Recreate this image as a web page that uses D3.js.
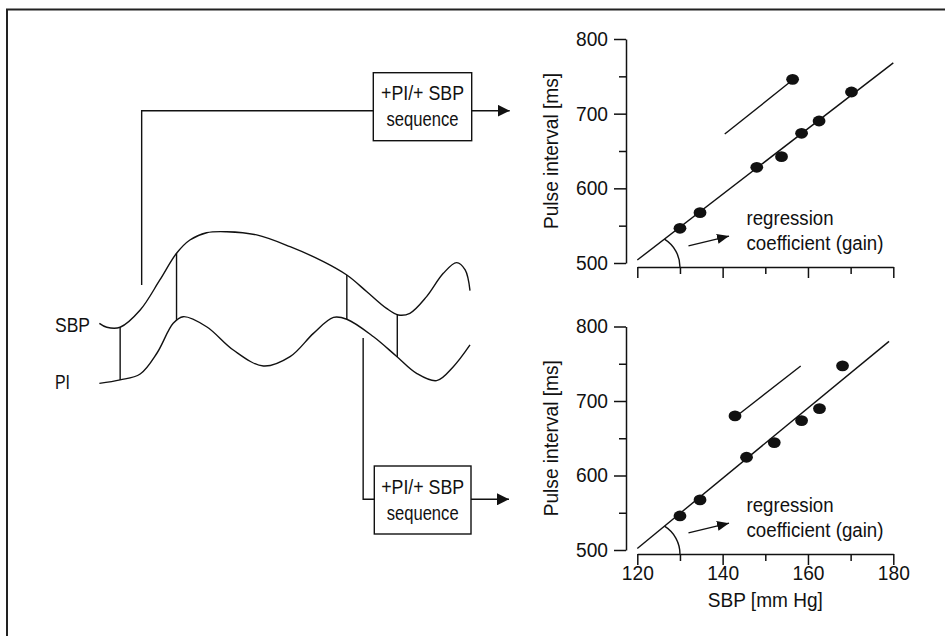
<!DOCTYPE html>
<html><head><meta charset="utf-8">
<script src="https://cdn.jsdelivr.net/npm/d3@7"></script>
<style>
body{margin:0;background:#fff;}
svg text{font-family:'Liberation Sans',Arial,sans-serif;font-size:20px;fill:#111;}
</style></head><body>
<svg id="c" width="945" height="636"></svg>
<script>
// ---------------- data ----------------
const xTicksMajor = [120, 140, 160, 180];
const xTicksMinor = [130, 150, 170];
const yTicksMajor = [500, 600, 700, 800];
const yTicksMinor = [550, 650, 750];

const topSBP = [130.0, 134.7, 148.0, 153.8, 158.5, 162.6, 170.2, 156.4];
const topPI  = [546.5, 567.4, 628.2, 642.4, 673.7, 690.2, 729.0, 746.0];
const botSBP = [130.0, 134.7, 145.6, 152.1, 158.5, 162.7, 168.1, 142.9];
const botPI  = [545.7, 567.2, 624.5, 644.2, 673.7, 689.8, 747.2, 680.0];

const topMainLine  = [[120, 504], [180, 768]];
const topShortLine = [[140.5, 672.7], [156.6, 746]];
const botMainLine  = [[120, 502], [179, 780]];
const botShortLine = [[144.1, 683.6], [158.3, 747]];

const gainArrow = [[132, 523], [141.5, 536]];
const gainArcCenterX = 122.3;
const gainArcEndX = 130;
const gainLabel = ["regression", "coefficient (gain)"];
const gainLabelPos = [[145.6, 551], [145.6, 518]];

const yTitle = "Pulse interval [ms]";
const xTitle = "SBP [mm Hg]";
const boxLines = ["+PI/+ SBP", "sequence"];
const waveLabels = ["SBP", "PI"];

// schematic waveforms: [time, level] (arbitrary units)
const sbpWave = [[0.1,45.1],[2.1,42.8],[5.7,42.8],[11.1,52.9],[16.4,70.6],[20.9,86.3],[24.5,94.1],[29.0,98.4],[34.4,99.0],[42.5,97.1],[51.5,90.2],[60.5,81.4],[66.8,73.5],[72.2,63.7],[77.5,53.9],[80.7,50.0],[83.8,51.0],[88.3,60.8],[92.8,74.5],[96.4,80.8],[98.7,76.5],[100,64.3]];
const piWave = [[0.1,9.8],[5.7,11.8],[11.1,15.3],[15.6,27.5],[20.0,45.1],[22.7,49.0],[29.0,43.1],[36.2,29.4],[44.3,20.0],[51.5,25.5],[57.8,39.2],[63.2,48.6],[66.8,47.5],[74.0,37.2],[80.1,25.9],[85.6,15.7],[91.0,11.4],[95.5,19.6],[100,32.4]];
const connectorTimes = [5.7, 20.9, 66.8, 80.4];
const seqLeadTop = [11.5, 67.6];   // time, level where upper lead starts
const seqLeadBot = [71.2, 36.5];   // time, level where lower lead starts

// rendered text widths (condensed face emulation)
const textWidths = {"+PI/+ SBP": 83, "sequence": 72, "regression": 87, "coefficient (gain)": 137,
  "Pulse interval [ms]": 156, "SBP [mm Hg]": 115, "SBP": 35, "PI": 15};
const tickLabelWidth = 32;

// ---------------- drawing ----------------
const svg = d3.select("#c");
const ink = "#111";
function fit(sel) {
  sel.each(function () {
    const t = d3.select(this).text();
    const w = textWidths[t] !== undefined ? textWidths[t] : tickLabelWidth;
    d3.select(this).attr("textLength", w).attr("lengthAdjust", "spacingAndGlyphs");
  });
  return sel;
}

// frame (top & left edges visible)
svg.append("path").attr("d", "M7,636V9.5H945").attr("fill", "none").attr("stroke", "#222").attr("stroke-width", 2);

// markers
const defs = svg.append("defs");
defs.append("marker").attr("id", "ah").attr("markerUnits", "userSpaceOnUse")
  .attr("viewBox", "0 -6 12 12").attr("refX", 12).attr("refY", 0)
  .attr("markerWidth", 12).attr("markerHeight", 12).attr("orient", "auto")
  .append("path").attr("d", "M0,-6L12,0L0,6Z").attr("fill", ink);
defs.append("marker").attr("id", "ah2").attr("markerUnits", "userSpaceOnUse")
  .attr("viewBox", "0 -5 12 10").attr("refX", 12).attr("refY", 0)
  .attr("markerWidth", 12).attr("markerHeight", 10).attr("orient", "auto")
  .append("path").attr("d", "M0,-5L12,0L0,5Z").attr("fill", ink);

// ---- waveforms ----
const tS = d3.scaleLinear().domain([0, 100]).range([99, 470]);
const vS = d3.scaleLinear().domain([0, 100]).range([400, 230]);
const wline = d3.line().x(d => tS(d[0])).y(d => vS(d[1])).curve(d3.curveCatmullRom.alpha(0.5));
const wg = svg.append("g").attr("fill", "none").attr("stroke", ink).attr("stroke-width", 1.4);
const sbpPath = wg.append("path").attr("d", wline(sbpWave)).node();
const piPath = wg.append("path").attr("d", wline(piWave)).node();

function yAtX(p, x) {
  let lo = 0, hi = p.getTotalLength();
  for (let i = 0; i < 40; i++) {
    const m = (lo + hi) / 2;
    if (p.getPointAtLength(m).x < x) lo = m; else hi = m;
  }
  return p.getPointAtLength((lo + hi) / 2).y;
}
connectorTimes.forEach(t => {
  const x = tS(t);
  wg.append("line").attr("x1", x).attr("x2", x)
    .attr("y1", yAtX(sbpPath, x)).attr("y2", yAtX(piPath, x));
});

fit(svg.append("text").attr("x", 55).attr("y", 331.5).text(waveLabels[0]));
fit(svg.append("text").attr("x", 55).attr("y", 388.5).text(waveLabels[1]));

// ---- sequence boxes & leads ----
function seqBox(x0, y0, w, h, leadY) {
  const g = svg.append("g");
  g.append("rect").attr("x", x0).attr("y", y0).attr("width", w).attr("height", h)
    .attr("fill", "#fff").attr("stroke", ink).attr("stroke-width", 1.4);
  fit(g.append("text").attr("x", x0 + w / 2).attr("y", y0 + 27.5).attr("text-anchor", "middle").text(boxLines[0]));
  fit(g.append("text").attr("x", x0 + w / 2).attr("y", y0 + 53.5).attr("text-anchor", "middle").text(boxLines[1]));
  g.append("line").attr("x1", x0 + w).attr("x2", x0 + w + 38).attr("y1", leadY).attr("y2", leadY)
    .attr("stroke", ink).attr("stroke-width", 1.4).attr("marker-end", "url(#ah)");
}
svg.append("path").attr("fill", "none").attr("stroke", ink).attr("stroke-width", 1.4)
  .attr("d", `M${tS(seqLeadTop[0])},${vS(seqLeadTop[1])}V110.7H373.3`);
seqBox(373.3, 72.7, 98.4, 68, 110.7);
svg.append("path").attr("fill", "none").attr("stroke", ink).attr("stroke-width", 1.4)
  .attr("d", `M${tS(seqLeadBot[0])},${vS(seqLeadBot[1])}V499.3H374.3`);
seqBox(374.3, 466, 96.7, 68, 499.3);

// ---- scatter panels ----
const x = d3.scaleLinear().domain([120, 180]).range([637.3, 893.3]);

function panel(yRange, xAxisY, sbp, pi, mainLine, shortLine, showXLabels) {
  const y = d3.scaleLinear().domain([500, 800]).range(yRange);
  const g = svg.append("g");

  g.append("g").attr("transform", "translate(626,0)")
    .call(d3.axisLeft(y).tickValues(yTicksMajor).tickSize(12).tickPadding(6).tickSizeOuter(0).tickFormat(d3.format("d")));
  g.append("g").attr("transform", "translate(626,0)")
    .call(d3.axisLeft(y).tickValues(yTicksMinor).tickSize(7).tickFormat(""))
    .call(s => s.select(".domain").remove());
  g.append("g").attr("transform", `translate(0,${xAxisY})`)
    .call(d3.axisBottom(x).tickValues(xTicksMajor).tickSize(11).tickPadding(1).tickSizeOuter(0)
      .tickFormat(showXLabels ? d3.format("d") : ""));
  g.append("g").attr("transform", `translate(0,${xAxisY})`)
    .call(d3.axisBottom(x).tickValues(xTicksMinor).tickSize(7).tickFormat(""))
    .call(s => s.select(".domain").remove());
  g.selectAll(".domain, .tick line").attr("stroke", ink).attr("stroke-width", 1.5);
  g.selectAll("g").attr("font-family", null).attr("font-size", null);
  fit(g.selectAll(".tick text").filter(function () { return d3.select(this).text() !== ""; }));

  const cy = (y(500) + y(800)) / 2;
  fit(g.append("text").attr("transform", `translate(558,${cy}) rotate(-90)`)
    .attr("text-anchor", "middle").text(yTitle));
  if (showXLabels) {
    fit(g.append("text").attr("x", (x(120) + x(180)) / 2).attr("y", xAxisY + 53)
      .attr("text-anchor", "middle").text(xTitle));
  }

  const ln = d3.line().x(d => x(d[0])).y(d => y(d[1]));
  g.append("path").attr("d", ln(mainLine)).attr("stroke", ink).attr("stroke-width", 1.4).attr("fill", "none");
  g.append("path").attr("d", ln(shortLine)).attr("stroke", ink).attr("stroke-width", 1.4).attr("fill", "none");

  g.selectAll("ellipse.pt").data(sbp.map((s, i) => [s, pi[i]])).join("ellipse")
    .attr("class", "pt").attr("cx", d => x(d[0])).attr("cy", d => y(d[1]))
    .attr("rx", 6.4).attr("ry", 5.4).attr("fill", ink);

  const acx = x(gainArcCenterX), acy = xAxisY, r = x(gainArcEndX) - acx;
  const p0 = [x(mainLine[0][0]), y(mainLine[0][1])], p1 = [x(mainLine[1][0]), y(mainLine[1][1])];
  let lo = 0, hi = 1;
  for (let i = 0; i < 40; i++) {
    const m = (lo + hi) / 2;
    const px = p0[0] + (p1[0] - p0[0]) * m, py = p0[1] + (p1[1] - p0[1]) * m;
    if (Math.hypot(px - acx, py - acy) < r) lo = m; else hi = m;
  }
  const ix = p0[0] + (p1[0] - p0[0]) * lo, iy = p0[1] + (p1[1] - p0[1]) * lo;
  g.append("path").attr("d", `M${ix},${iy}A${r},${r} 0 0 1 ${acx + r},${acy}`)
    .attr("fill", "none").attr("stroke", ink).attr("stroke-width", 1.4);

  g.append("path").attr("d", ln(gainArrow)).attr("stroke", ink).attr("stroke-width", 1.4)
    .attr("fill", "none").attr("marker-end", "url(#ah2)");
  gainLabel.forEach((t, i) => {
    fit(g.append("text").attr("x", x(gainLabelPos[i][0])).attr("y", y(gainLabelPos[i][1])).text(t));
  });
}

panel([263, 39], 267, topSBP, topPI, topMainLine, topShortLine, false);
panel([550, 326.5], 554, botSBP, botPI, botMainLine, botShortLine, true);
</script>
</body></html>
